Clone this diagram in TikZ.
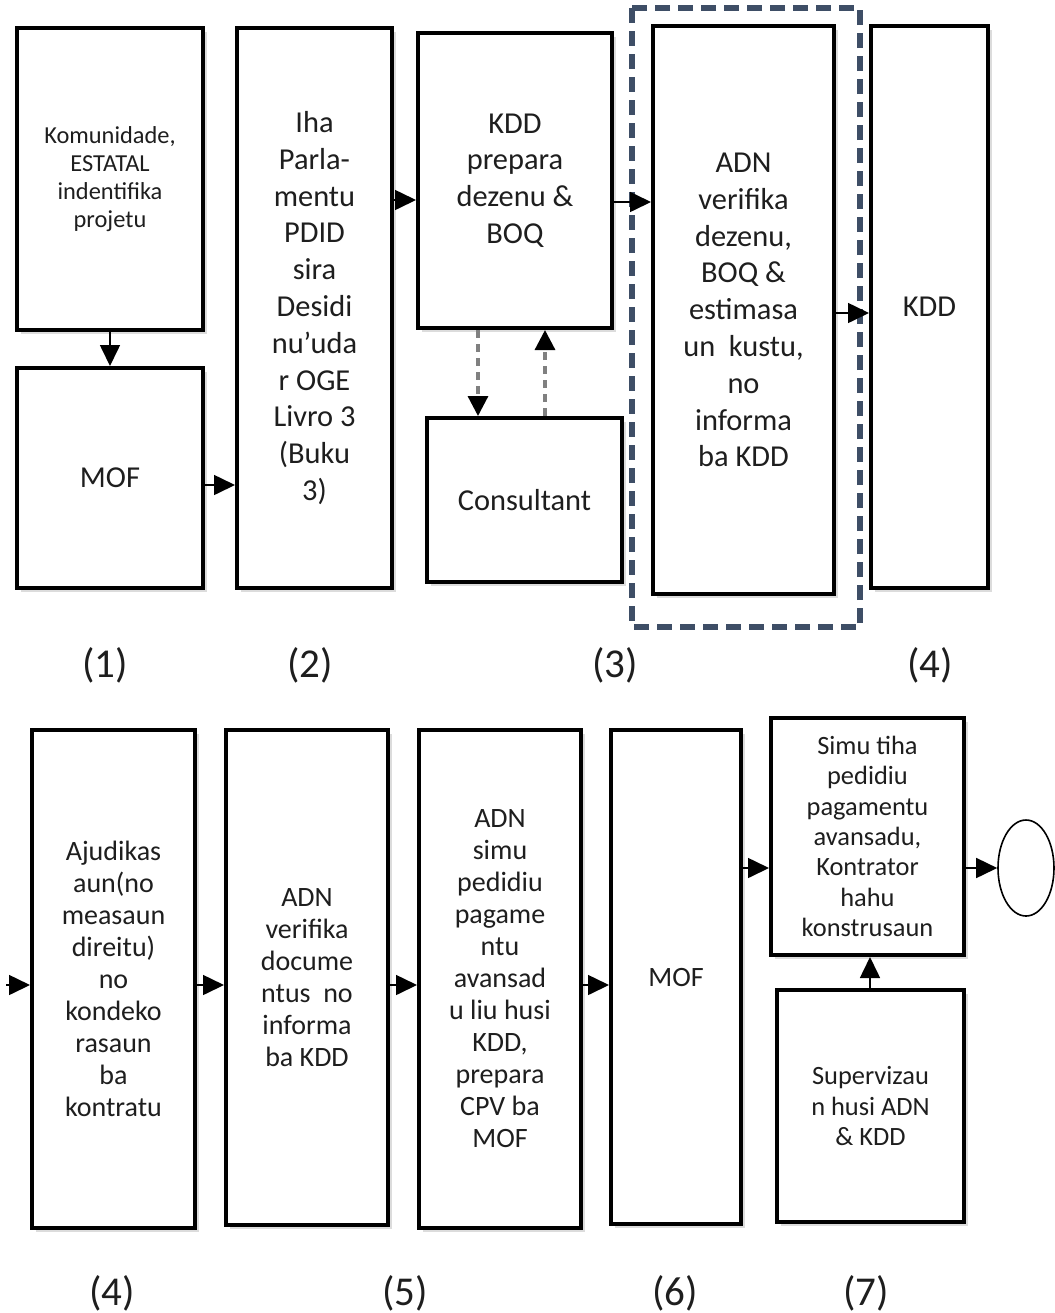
\documentclass[tikz,border=0pt]{standalone}
\usepackage{fontspec}
\setmainfont{Carlito}
\usetikzlibrary{arrows.meta,shadows,shapes.geometric}
\definecolor{slate}{HTML}{3E4E66}
\definecolor{txt}{HTML}{1E1E1E}
\begin{document}
\begin{tikzpicture}[x=0.5pt,y=-0.5pt,
  box/.style={draw=black, line width=2pt, fill=white, align=center, text=txt, inner sep=2pt,
    drop shadow={shadow xshift=1.8pt, shadow yshift=-1.8pt, fill=black!30, opacity=0.45}},
  ftop/.style={font=\fontsize{15.2}{18.4}\selectfont},
  fsmall/.style={font=\fontsize{12.2}{13.9}\selectfont},
  fbot/.style={font=\fontsize{14}{16}\selectfont},
  fsimu/.style={font=\fontsize{13.2}{15.2}\selectfont},
  flab/.style={font=\fontsize{20.5}{22}\selectfont, text=txt},
  arr/.style={-{Triangle[length=10.5pt,width=10pt]}, line width=0.8pt},
  darr/.style={-{Triangle[length=10pt,width=10pt,color=black]}, draw=black!50, line width=1.6pt, dash pattern=on 4pt off 3pt},
  groupbox/.style={draw=slate, line width=2.6pt, dash pattern=on 7.5pt off 4pt}
]
\useasboundingbox (0,0) rectangle (1055,1313);

% group outline
\coordinate (g1) at (632,8);
\coordinate (g2) at (860,627);
\draw[groupbox] (g1) rectangle (g2);

% top row
\node[box, fsmall, minimum width=93pt, minimum height=151pt] (b1) at (110,179)
  {Komunidade,\\ESTATAL\\indentifika\\projetu};
\node[box, ftop, minimum width=93pt, minimum height=110pt] (mof1) at (110,478) {MOF};
\node[box, ftop, minimum width=77.5pt, minimum height=280pt] (b2) at (314.5,308)
  {Iha\\Parla-\\mentu\\PDID\\sira\\Desidi\\nu’uda\\r OGE\\Livro 3\\(Buku\\3)};
\node[box, ftop, minimum width=97pt, minimum height=147.5pt] (b3) at (515,180.5)
  {KDD\\prepara\\dezenu \&\\BOQ};
\node[box, ftop, minimum width=97.5pt, minimum height=82pt] (cons) at (524.5,500) {Consultant};
\node[box, ftop, minimum width=90.5pt, minimum height=284pt] (adn) at (743.5,310)
  {ADN\\verifika\\dezenu,\\BOQ \&\\estimasa\\un\ \ kustu,\\no\\informa\\ba KDD};
\node[box, ftop, minimum width=58.5pt, minimum height=281pt] (kdd) at (929.5,307) {KDD};

% top labels
\node[flab] (l1) at (105,665) {(1)};
\node[flab] (l2) at (310,665) {(2)};
\node[flab] (l3) at (615,665) {(3)};
\node[flab] (l4) at (930,665) {(4)};

% top connectors
\draw[arr] (b1.south) -- (mof1.north);
\draw[arr] (mof1.east |- 0,485) -- (b2.west |- 0,485);
\draw[arr] (b2.east |- 0,200) -- (b3.west |- 0,200);
\draw[darr] (b3.south -| 478,0) -- (cons.north -| 478,0);
\draw[darr] (cons.north -| 545,0) -- (b3.south -| 545,0);
\draw[arr] (b3.east |- 0,202) -- (adn.west |- 0,202);
\draw[arr] (adn.east |- 0,313) -- (kdd.west |- 0,313);

% bottom row
\node[box, fbot, minimum width=81.5pt, minimum height=249pt] (aju) at (113.5,979)
  {Ajudikas\\aun(no\\measaun\\direitu)\\no\\kondeko\\rasaun\\ba\\kontratu};
\node[box, fbot, minimum width=81pt, minimum height=247.5pt] (adnv) at (307,977.5)
  {ADN\\verifika\\docume\\ntus\ \ no\\informa\\ba KDD};
\node[box, fbot, minimum width=81pt, minimum height=249pt] (adns) at (500,979)
  {ADN\\simu\\pedidiu\\pagame\\ntu\\avansad\\u liu husi\\KDD,\\prepara\\CPV ba\\MOF};
\node[box, fbot, minimum width=65pt, minimum height=247pt] (mof2) at (676,977) {MOF};
\node[box, fsimu, minimum width=96.5pt, minimum height=118.5pt] (simu) at (867.5,836.5)
  {Simu tiha\\pedidiu\\pagamentu\\avansadu,\\Kontrator\\hahu\\konstrusaun};
\node[box, fsimu, minimum width=93.5pt, minimum height=116pt] (sup) at (870.5,1106)
  {Supervizau\\n husi ADN\\\& KDD};
\node[draw=black, line width=0.8pt, ellipse, minimum width=28pt, minimum height=48pt, inner sep=0pt] (end) at (1026,868) {};

% bottom labels
\node[flab] (l5) at (112,1293) {(4)};
\node[flab] (l6) at (405,1293) {(5)};
\node[flab] (l7) at (675,1293) {(6)};
\node[flab] (l8) at (866,1293) {(7)};

% bottom connectors
\coordinate (in) at (6,985);
\draw[arr] (in) -- (aju.west |- in);
\draw[arr] (aju.east |- 0,985) -- (adnv.west |- 0,985);
\draw[arr] (adnv.east |- 0,985) -- (adns.west |- 0,985);
\draw[arr] (adns.east |- 0,985) -- (mof2.west |- 0,985);
\draw[arr] (mof2.east |- 0,868) -- (simu.west |- 0,868);
\draw[arr] (sup.north -| 870,0) -- (simu.south -| 870,0);
\draw[arr] (simu.east |- 0,868) -- (end.west);
\end{tikzpicture}
\end{document}
